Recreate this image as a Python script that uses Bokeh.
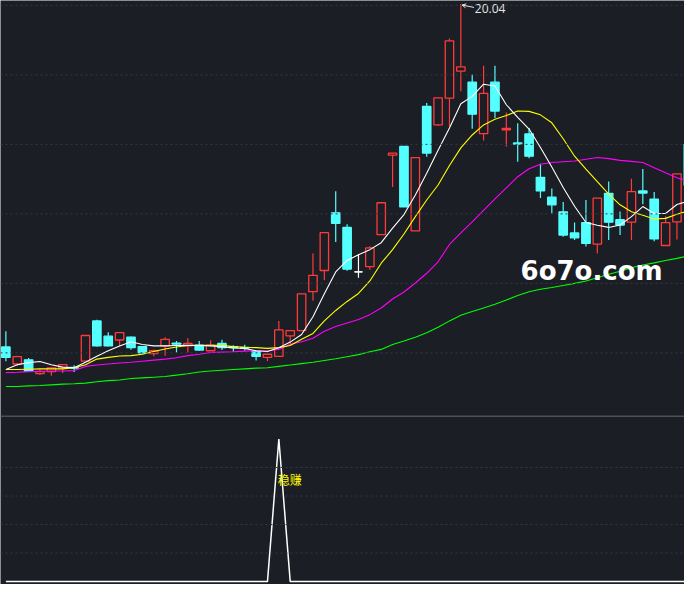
from bokeh.plotting import figure
from bokeh.models import Range1d, Span, Arrow, OpenHead, ColumnDataSource
from bokeh.core.properties import value
from bokeh.embed import file_html
from bokeh.resources import INLINE

# ---------------- data ----------------
opens = [10.17, 9.68, 9.80, 9.40, 9.46, 9.57, 9.58, 9.76, 10.92, 10.48,
         10.37, 10.45, 10.18, 9.98, 10.20, 10.28, 10.20, 10.22, 10.06, 10.27,
         10.18, 10.16, 10.04, 9.87, 9.90, 10.49, 10.64, 11.76, 12.37, 14.03,
         13.61, 12.33, 12.48, 13.40, 15.69, 15.94, 13.51, 17.09, 16.56, 17.33,
         18.11, 17.79, 16.31, 17.79, 16.42, 16.04, 16.30, 15.05, 14.48, 14.06,
         13.45, 13.75, 13.13, 14.59, 13.83, 13.76, 14.66, 14.42, 13.09, 13.77,
         16.00]
highs = [10.62, 9.92, 9.85, 9.53, 9.58, 9.67, 9.64, 10.50, 10.95, 10.59,
         10.58, 10.47, 10.19, 10.10, 10.45, 10.34, 10.42, 10.34, 10.36, 10.38,
         10.22, 10.23, 10.05, 9.96, 10.92, 10.64, 11.70, 12.86, 13.46, 14.65,
         13.70, 12.83, 13.07, 14.32, 15.75, 15.95, 15.62, 17.19, 17.34, 19.05,
         20.04, 18.01, 18.26, 18.26, 16.92, 16.61, 16.47, 15.44, 14.73, 14.34,
         13.75, 14.40, 14.45, 14.93, 14.07, 15.01, 15.29, 14.63, 13.93, 15.15,
         16.05]
lows = [9.76, 9.63, 9.45, 9.36, 9.34, 9.42, 9.45, 9.76, 10.18, 10.19,
        10.20, 10.09, 9.99, 9.90, 9.92, 10.01, 10.01, 10.06, 10.05, 10.08,
        10.03, 10.06, 9.78, 9.76, 9.90, 10.23, 10.64, 11.50, 12.09, 13.19,
        12.36, 12.16, 12.39, 13.40, 14.77, 14.20, 13.51, 15.64, 16.53, 16.52,
        17.53, 16.45, 16.11, 16.76, 15.94, 15.50, 15.60, 14.46, 14.01, 13.34,
        13.25, 13.06, 12.86, 13.25, 13.39, 13.25, 14.28, 13.21, 13.09, 13.26,
        14.78]
closes = [9.87, 9.89, 9.47, 9.46, 9.57, 9.66, 9.56, 10.50, 10.20, 10.20,
          10.58, 10.15, 10.00, 10.06, 10.39, 10.25, 10.27, 10.08, 10.22, 10.15,
          10.15, 10.14, 9.90, 9.96, 10.66, 10.64, 11.70, 12.23, 13.46, 13.73,
          12.41, 12.33, 13.02, 14.32, 15.75, 14.20, 15.62, 15.75, 17.34, 18.98,
          18.23, 16.87, 17.47, 16.96, 16.46, 16.01, 15.66, 14.66, 14.26, 13.39,
          13.31, 13.15, 14.45, 13.76, 13.68, 14.64, 14.60, 13.28, 13.75, 15.15,
          14.82]

ma5 = [9.52, 9.66, 9.72, 9.75, 9.66, 9.59, 9.57, 9.73, 9.90, 10.06,
       10.20, 10.32, 10.24, 10.20, 10.20, 10.21, 10.22, 10.21, 10.20, 10.18,
       10.14, 10.13, 10.06, 10.04, 10.15, 10.31, 10.53, 11.04, 11.70, 12.33,
       12.66, 12.82, 12.97, 13.17, 13.59, 13.98, 14.54, 15.17, 15.83, 16.47,
       17.17, 17.38, 17.73, 17.68, 17.14, 16.78, 16.44, 15.91, 15.35, 14.76,
       14.22, 13.75, 13.67, 13.61, 13.68, 13.92, 14.21, 14.01, 14.01, 14.27,
       14.37]
ma10 = [9.52, 9.52, 9.53, 9.54, 9.54, 9.54, 9.57, 9.66, 9.82, 9.87,
        9.91, 9.92, 9.96, 10.04, 10.11, 10.17, 10.21, 10.22, 10.22, 10.22,
        10.18, 10.16, 10.15, 10.13, 10.15, 10.21, 10.39, 10.56, 10.92, 11.22,
        11.48, 11.71, 12.07, 12.58, 12.97, 13.42, 13.92, 14.40, 14.83, 15.39,
        15.90, 16.27, 16.56, 16.72, 16.83, 16.96, 16.95, 16.85, 16.62, 16.16,
        15.66, 15.29, 14.93, 14.57, 14.26, 14.06, 13.96, 13.85, 13.87, 13.99,
        14.09]
ma20 = [9.43, 9.44, 9.46, 9.47, 9.48, 9.48, 9.49, 9.61, 9.65, 9.68,
        9.71, 9.73, 9.76, 9.79, 9.82, 9.86, 9.92, 9.96, 10.01, 10.02,
        10.03, 10.05, 10.06, 10.06, 10.10, 10.25, 10.32, 10.42, 10.62, 10.76,
        10.86, 10.96, 11.10, 11.29, 11.55, 11.75, 12.01, 12.29, 12.62, 13.12,
        13.45, 13.77, 14.10, 14.43, 14.75, 15.07, 15.30, 15.43, 15.48, 15.50,
        15.52, 15.57, 15.62, 15.59, 15.54, 15.51, 15.48, 15.33, 15.18, 15.04,
        14.94]
ma60 = [9.03, 9.03, 9.05, 9.06, 9.08, 9.10, 9.11, 9.13, 9.17, 9.20,
        9.22, 9.26, 9.28, 9.30, 9.32, 9.36, 9.40, 9.45, 9.48, 9.50,
        9.52, 9.54, 9.56, 9.57, 9.61, 9.65, 9.69, 9.73, 9.78, 9.83,
        9.89, 9.95, 10.03, 10.10, 10.24, 10.34, 10.45, 10.58, 10.74, 10.92,
        11.08, 11.19, 11.29, 11.40, 11.52, 11.65, 11.76, 11.83, 11.88, 11.94,
        12.00, 12.07, 12.16, 12.26, 12.35, 12.45, 12.53, 12.59, 12.66, 12.72,
        12.79]

signal = [0, 0, 0, 0, 0, 0, 0, 0, 0, 0,
          0, 0, 0, 0, 0, 0, 0, 0, 0, 0,
          0, 0, 0, 0, 100, 0, 0, 0, 0, 0,
          0, 0, 0, 0, 0, 0, 0, 0, 0, 0,
          0, 0, 0, 0, 0, 0, 0, 0, 0, 0,
          0, 0, 0, 0, 0, 0, 0, 0, 0, 0,
          0]

main_grid = [20, 18, 16, 14, 12, 10]
ind_grid = [20, 40, 60, 80]
peak_label = "20.04"
signal_label = "稳赚"
watermark = "6o7o.com"

# ---------------- styling ----------------
BG = "#1b1e25"
RED = "#ff3a3a"
CYAN = "#54ffff"
GRID = "#353943"

n = len(closes)
idx = list(range(n))
colors, fills = [], []
for o, c in zip(opens, closes):
    if c > o:
        colors.append(RED); fills.append(BG)
    elif c < o:
        colors.append(CYAN); fills.append(CYAN)
    else:
        colors.append("#ffffff"); fills.append("#ffffff")

src = ColumnDataSource(dict(
    x=idx, h=highs, l=lows,
    top=[max(o, c) for o, c in zip(opens, closes)],
    bottom=[min(o, c) for o, c in zip(opens, closes)],
    color=colors, fill=fills,
))

p = figure(width=684, height=584,
           x_range=Range1d(-0.4725, 59.665), y_range=Range1d(3.334, 20.140),
           x_axis_type=None, y_axis_type=None,
           toolbar_location=None, output_backend="svg",
           min_border=0, background_fill_color=BG, border_fill_color=BG,
           outline_line_color=None)
p.extra_y_ranges = {"ind": Range1d(-2.048, 407.5)}

for g in main_grid:
    p.add_layout(Span(location=g, dimension="width", line_color=GRID,
                      line_dash="2 3", line_width=1))
for g in ind_grid:
    p.add_layout(Span(location=g, dimension="width", line_color=GRID,
                      line_dash="2 3", line_width=1, y_range_name="ind"))
# panel separator
p.add_layout(Span(location=116, dimension="width", line_color="#4a4f58",
                  line_width=1.5, y_range_name="ind"))

# candles
p.segment(x0="x", y0="h", x1="x", y1="l", line_color="color", line_width=1.2, source=src)
p.vbar(x="x", width=0.74, top="top", bottom="bottom", fill_color="fill",
       line_color="color", line_width=1.3, source=src)
doji_x = [i for i in idx if opens[i] == closes[i]]
p.segment(x0=[i - 0.32 for i in doji_x], y0=[opens[i] for i in doji_x],
          x1=[i + 0.32 for i in doji_x], y1=[opens[i] for i in doji_x],
          line_color="#ffffff", line_width=1.2)

# moving averages
p.line(idx, ma60, line_color="#00ff00", line_width=1.1)
p.line(idx, ma20, line_color="#ff00ff", line_width=1.1)
p.line(idx, ma10, line_color="#ffff00", line_width=1.1)
p.line(idx, ma5, line_color="#ffffff", line_width=1.1)

# peak annotation
pk = highs.index(max(highs))
p.add_layout(Arrow(end=OpenHead(size=4, line_color="#e6e6e6", line_width=1),
                   x_start=pk + 1.16, y_start=max(highs) - 0.10,
                   x_end=pk + 0.1, y_end=max(highs) - 0.03,
                   line_color="#e6e6e6", line_width=1))
p.text(x=[pk], y=[max(highs)], text=[peak_label], x_offset=14, y_offset=5,
       text_font=value("Open Sans"), text_font_size="12px",
       text_color="#e6e6e6", text_align="left", text_baseline="middle")

# watermark
p.text(x=[51.5], y=[12.35], text=[watermark], text_font=value("DejaVu Sans"),
       text_font_style="bold", text_font_size="26px", text_color="#ffffff",
       text_align="center", text_baseline="middle")

# indicator panel
p.line(idx, signal, line_color="#ffffff", line_width=1.5, y_range_name="ind")
sig_i = signal.index(max(signal))
p.text(x=[sig_i], y=[71.5], text=[signal_label], y_range_name="ind",
       text_font=value("Noto Sans CJK SC"), text_font_size="12px",
       text_color="#ffff00", text_align="left", text_baseline="middle", x_offset=-1)

open("out.html", "w").write(file_html(p, INLINE))
